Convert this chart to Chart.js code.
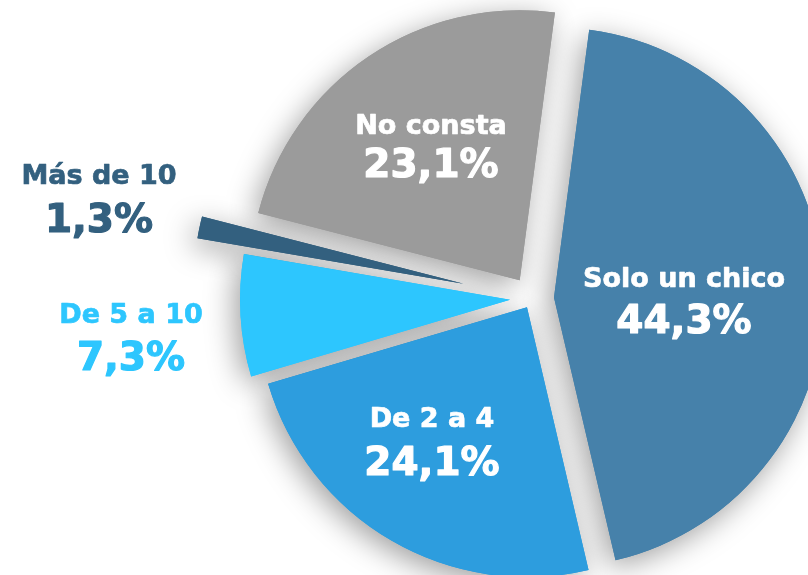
<!DOCTYPE html>
<html>
<head>
<meta charset="utf-8">
<script src="https://cdn.jsdelivr.net/npm/chart.js@4.4.0/dist/chart.umd.min.js"></script>
<style>
  html, body { margin: 0; padding: 0; background: #fff; overflow: hidden; }
  #wrap { position: relative; width: 808px; height: 575px; }
</style>
</head>
<body>
<div id="wrap"><canvas id="ChartPieChicos" width="808" height="575"></canvas></div>
<script>
var categorias = ['Solo un chico', 'De 2 a 4', 'De 5 a 10', 'Más de 10', 'No consta'];
var porcentajes = [44.3, 24.1, 7.3, 1.3, 23.1];
var colores = ['#4681AA', '#2D9DDE', '#2DC6FE', '#33607F', '#9B9B9B'];
// cuanto se separa cada porcion del centro (px)
var separacion = [22, 10, 22, 70, 22];
// posicion de los textos: [x, y nombre, y porcentaje]
var posTextos = [[684, 287, 333], [432, 427, 475], [131, 323, 370], [99, 184, 232], [431, 134, 177]];
var colorTextos = ['#ffffff', '#ffffff', '#2DC6FE', '#33607F', '#ffffff'];

// el offset de chart.js achica las porciones finas, asi que se mueve el centro de cada arco
var separar = {
  id: 'separar',
  afterDatasetsUpdate: function (chart) {
    var meta = chart.getDatasetMeta(0);
    meta.data.forEach(function (arc, i) {
      var mid = (arc.startAngle + arc.endAngle) / 2;
      arc.x = arc.x + Math.cos(mid) * separacion[i];
      arc.y = arc.y + Math.sin(mid) * separacion[i];
    });
  }
};

var sombra = {
  id: 'sombra',
  beforeDatasetsDraw: function (chart) {
    var ctx = chart.ctx;
    var meta = chart.getDatasetMeta(0);
    ctx.save();
    ctx.shadowColor = 'rgba(0,0,0,0.38)';
    ctx.shadowBlur = 30;
    ctx.shadowOffsetX = -5;
    ctx.shadowOffsetY = 7;
    meta.data.forEach(function (arc) { arc.draw(ctx); });
    ctx.restore();
  }
};

var textos = {
  id: 'textos',
  afterDatasetsDraw: function (chart) {
    var ctx = chart.ctx;
    ctx.save();
    ctx.textAlign = 'center';
    ctx.textBaseline = 'alphabetic';
    ctx.lineJoin = 'round';
    categorias.forEach(function (cat, i) {
      var p = posTextos[i];
      var pct = porcentajes[i].toFixed(1).replace('.', ',') + '%';
      ctx.fillStyle = colorTextos[i];
      ctx.strokeStyle = colorTextos[i];
      ctx.font = 'bold 27px "DejaVu Sans"';
      ctx.lineWidth = 0.7;
      ctx.fillText(cat, p[0], p[1]);
      ctx.strokeText(cat, p[0], p[1]);
      ctx.font = 'bold 39px "DejaVu Sans"';
      ctx.lineWidth = 1.2;
      ctx.fillText(pct, p[0], p[2]);
      ctx.strokeText(pct, p[0], p[2]);
    });
    ctx.restore();
  }
};

var ctx = document.getElementById('ChartPieChicos').getContext('2d');
var myChart = new Chart(ctx, {
  type: 'pie',
  data: {
    labels: categorias,
    datasets: [{
      label: 'Chicos',
      data: porcentajes,
      backgroundColor: colores,
      borderWidth: 0,
      clip: false
    }]
  },
  options: {
    responsive: false,
    animation: false,
    rotation: 7.5,
    radius: 270,
    layout: { padding: { left: 256, top: 22, right: 0, bottom: 0 } },
    plugins: {
      legend: { display: false },
      tooltip: { enabled: false }
    }
  },
  plugins: [separar, sombra, textos]
});
</script>
</body>
</html>
